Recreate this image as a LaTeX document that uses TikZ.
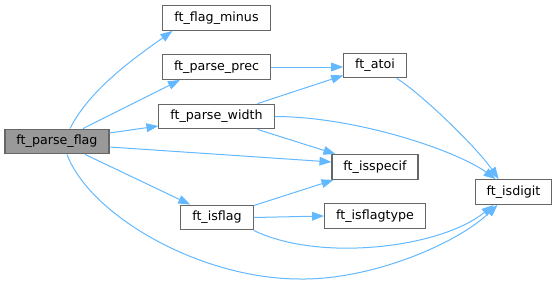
\documentclass[tikz,border=0pt]{standalone}
\usepackage{fontspec}
\setmainfont{DejaVu Sans}
\usetikzlibrary{arrows.meta, calc}

\definecolor{edgeblue}{HTML}{63B8FF}
\definecolor{framegray}{HTML}{666666}
\definecolor{fillgray}{HTML}{999999}

\begin{document}
\begin{tikzpicture}[x=0.75pt, y=-0.75pt,
	fn/.style={draw=framegray, line width=0.8pt, fill=white, inner xsep=8.6pt, inner ysep=0pt, minimum height=18.6pt, font=\fontsize{9.5}{11}\selectfont},
	cur/.style={fn, fill=fillgray},
	call/.style={draw=edgeblue, line width=0.75pt, -{Triangle[length=9pt, width=6.5pt]}}]
	\useasboundingbox (0,0) rectangle (559,285);

	% callers on the left, callees to the right
	\node[cur] (pf) at (57,141.5) {ft\_parse\_flag};
	\node[fn] (fm) at (216.5,18) {ft\_flag\_minus};
	\node[fn] (pp) at (216.5,67) {ft\_parse\_prec};
	\node[fn] (pw) at (216.5,116.5) {ft\_parse\_width};
	\node[fn] (fl) at (217,217.5) {ft\_isflag};
	\node[fn] (at) at (375,65.5) {ft\_atoi};
	\node[fn] (is) at (375,167) {ft\_isspecif};
	\node[fn] (ft) at (375,216) {ft\_isflagtype};
	\node[fn] (id) at (513.5,192) {ft\_isdigit};

	% ft_parse_flag
	\draw[call] ($(pf.north)+(13,0)$) .. controls +(20,-40) and +(-35,25) .. ($(fm.south west)+(10,0)$);
	\draw[call] ($(pf.north)+(26,0)$) -- ($(pp.south west)+(18,0)$);
	\draw[call] ($(pf.east)+(0,-8.5)$) -- ($(pw.west)+(0,9.5)$);
	\draw[call] ($(pf.east)+(0,5.5)$) -- ($(is.west)+(0,-5)$);
	\draw[call] ($(pf.south)+(28,0)$) -- ($(fl.north west)+(10,0)$);
	\draw[call] ($(pf.south)+(10,0)$) .. controls +(23,61) and (200,279) .. (300,279)
		.. controls (370,280) and (455,245) .. ($(id.south west)+(23,0)$);

	% second level
	\draw[call] ($(pp.east)$) -- ($(at.west)+(0,1.5)$);
	\draw[call] ($(pw.north east)+(-17,0)$) -- ($(at.south west)+(0,-3)$);
	\draw[call] ($(pw.south east)+(-17,0)$) -- ($(is.north west)+(4,0)$);
	\draw[call] (pw.east) .. controls +(80,0) and +(-40,-29) .. ($(id.north west)+(21,0)$);
	\draw[call] ($(at.south east)+(-10,0)$) .. controls +(23,14) and +(-23,-33) .. ($(id.north west)+(24,0)$);
	\draw[call] ($(fl.north east)+(0,1)$) -- ($(is.south west)+(2,0)$);
	\draw[call] (fl.east) -- (ft.west);
	\draw[call] (fl.south east) .. controls +(66,32) and +(-53,43) .. ($(id.south west)+(19,0)$);
\end{tikzpicture}
\end{document}
